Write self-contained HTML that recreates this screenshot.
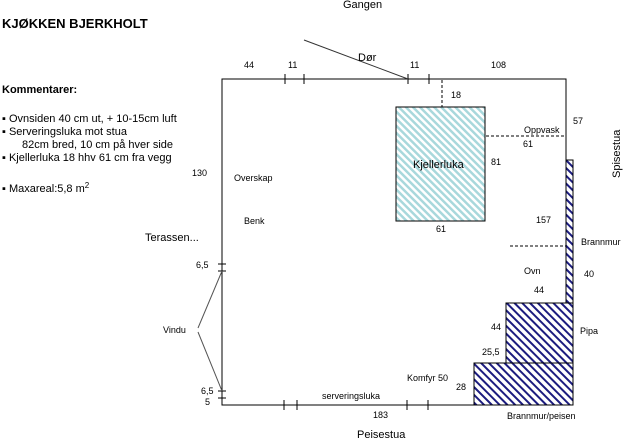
<!DOCTYPE html>
<html><head><meta charset="utf-8"><style>
body{margin:0;width:623px;height:438px;background:#fff;overflow:hidden}
svg{display:block}
text{font-family:"Liberation Sans",sans-serif;font-size:9px;fill:#000}
</style></head><body>
<svg width="623" height="438" viewBox="0 0 623 438">
<defs>
<pattern id="lb" patternUnits="userSpaceOnUse" width="5" height="5" patternTransform="rotate(-45)">
<rect width="5" height="5" fill="#fff"/><rect width="2.5" height="5" fill="#a8d8dc"/></pattern>
<pattern id="db" patternUnits="userSpaceOnUse" width="5.5" height="5.5" patternTransform="rotate(-45)">
<rect width="5.5" height="5.5" fill="#fff"/><rect width="2" height="5.5" fill="#1c1c80"/></pattern>
</defs>
<text x="2" y="28" style="font-size:13px;font-weight:bold">KJØKKEN BJERKHOLT</text>
<text x="2" y="93" style="font-size:11px;font-weight:bold">Kommentarer:</text>
<text x="2" y="122" style="font-size:11px">▪ Ovnsiden 40 cm ut, + 10-15cm luft</text>
<text x="2" y="135" style="font-size:11px">▪ Serveringsluka mot stua</text>
<text x="22" y="148" style="font-size:11px">82cm bred, 10 cm på hver side</text>
<text x="2" y="161" style="font-size:11px">▪ Kjellerluka 18 hhv 61 cm fra vegg</text>
<text x="2" y="192" style="font-size:11px">▪ Maxareal:5,8 m<tspan dy="-4" style="font-size:8px">2</tspan></text>
<g stroke="#000" stroke-width="1" fill="none">
<path d="M222,79H566V405H222Z"/>
<path d="M285,74v10M304,74v10M408,74v10M429,74v10M284,400v10M297,400v10M407,400v10M428,400v10M218,264h8M218,271h8M218,391h8M218,398h8"/>
<path d="M304,40L408,79" stroke="#333"/>
<path d="M198,328L222,271M198,332L222,391" stroke="#555"/>
<path d="M442,80V107M486,136H566M510,246H566" stroke-dasharray="3,2"/>
</g>
<rect x="396" y="107" width="89" height="114" fill="url(#lb)" stroke="#000"/>
<rect x="566" y="160" width="7" height="143" fill="url(#db)" stroke="#000"/>
<rect x="506" y="303" width="67" height="60" fill="url(#db)" stroke="#000"/>
<rect x="474" y="363" width="99" height="42" fill="url(#db)" stroke="#000"/>
<text x="343" y="8" style="font-size:11px">Gangen</text>
<text x="358" y="61" style="font-size:11px">Dør</text>
<text x="244" y="68">44</text><text x="288" y="68">11</text><text x="410" y="68">11</text><text x="491" y="68">108</text>
<text x="451" y="98">18</text>
<text x="524" y="133">Oppvask</text><text x="573" y="124">57</text><text x="523" y="147">61</text>
<text x="413" y="168" style="font-size:11px">Kjellerluka</text>
<text x="491" y="165">81</text>
<text x="192" y="176">130</text>
<text x="234" y="181">Overskap</text>
<text x="244" y="224">Benk</text>
<text x="536" y="223">157</text>
<text x="436" y="232">61</text>
<text x="145" y="241" style="font-size:11px">Terassen...</text>
<text x="581" y="245">Brannmur</text>
<text x="196" y="268">6,5</text>
<text x="524" y="274">Ovn</text><text x="584" y="277">40</text>
<text x="534" y="293">44</text>
<text x="491" y="330">44</text><text x="580" y="334">Pipa</text>
<text x="163" y="333">Vindu</text>
<text x="482" y="355">25,5</text>
<text x="407" y="381">Komfyr 50</text>
<text x="456" y="390">28</text>
<text x="201" y="394">6,5</text><text x="205" y="405">5</text>
<text x="322" y="399">serveringsluka</text>
<text x="373" y="418">183</text>
<text x="507" y="419">Brannmur/peisen</text>
<text x="357" y="438" style="font-size:11px">Peisestua</text>
<text transform="translate(620,178) rotate(-90)" style="font-size:11px">Spisestua</text>
</svg>
</body></html>
